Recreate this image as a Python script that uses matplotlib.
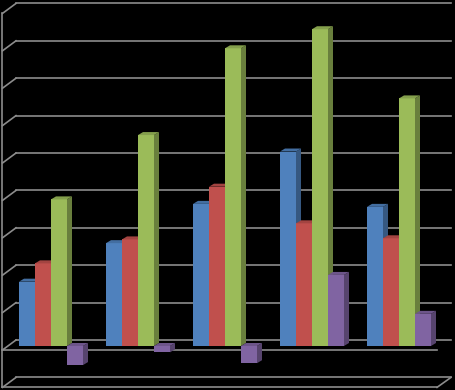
import matplotlib
matplotlib.use("Agg")
import matplotlib.pyplot as plt
from matplotlib.patches import Polygon
import numpy as np

# ---- data ----
categories = ["1", "2", "3", "4", "5"]
series_names = ["Series 1", "Series 2", "Series 3", "Series 4"]
blue = [1.72, 2.75, 3.80, 5.20, 3.72]
red = [2.21, 2.85, 4.26, 3.28, 2.88]
green = [3.92, 5.64, 7.96, 8.47, 6.62]
purple = [-0.51, -0.17, -0.46, 1.90, 0.86]
grid_values = list(range(-1, 10))

series = [blue, red, green, purple]
front_colors = ["#4F81BD", "#C0504D", "#9BBB59", "#8064A2"]

# ---- layout helpers (pixel geometry -> data units) ----
PX_X = 87.0      # pixels per category
PX_Y = 37.4      # pixels per value unit
X0, Y0 = 51.0, 346.0


def X(px):
    return (px - X0) / PX_X


def Y(py):
    return (Y0 - py) / PX_Y


def shade(c, f):
    r, g, b = matplotlib.colors.to_rgb(c)
    return (r * f, g * f, b * f)


fig = plt.figure(figsize=(4.55, 3.9), dpi=100, facecolor="black")
ax = fig.add_axes([0, 0, 1, 1])
ax.set_facecolor("black")
ax.set_xlim(X(0), X(455))
ax.set_ylim(Y(390), Y(0))
ax.axis("off")

gc = "#8c8c8c"
glw = 1.2
back_dy = (Y0 - 340.0) / PX_Y
front_dy = (Y0 - 350.0) / PX_Y

# back wall gridlines + left wall diagonals
for k in grid_values:
    ax.plot([X(16), X(451)], [k + back_dy, k + back_dy], color=gc, lw=glw, zorder=1)
    ax.plot([X(2.5), X(16)], [k + front_dy, k + back_dy], color=gc, lw=glw, zorder=1)

# left vertical edge
ax.plot([X(2.5), X(2.5)], [grid_values[0] + front_dy, grid_values[-1] + front_dy],
        color=gc, lw=glw, zorder=1)
# front floor edges
for k in (0, grid_values[0]):
    ax.plot([X(2.5), X(437)], [k + front_dy, k + front_dy], color=gc, lw=glw, zorder=1)
ax.plot([X(437), X(451)], [grid_values[0] + front_dy, grid_values[0] + back_dy],
        color=gc, lw=glw, zorder=1)

# ---- bars ----
bw = 16.0 / PX_X
ddx = 5.0 / PX_X
ddy = 3.0 / PX_Y
idx = np.arange(len(categories))

for j, (vals, col) in enumerate(zip(series, front_colors)):
    z = 3 + j
    lefts = idx - 32.0 / PX_X + j * bw
    ax.bar(lefts, vals, width=bw, align="edge", color=col, edgecolor="none",
           zorder=z, label=series_names[j])
    for xl, v in zip(lefts, vals):
        top = max(0.0, v)
        bot = min(0.0, v)
        xr = xl + bw
        # side face
        ax.add_patch(Polygon([[xr, bot], [xr + ddx, bot + ddy], [xr + ddx, top + ddy], [xr, top]],
                             closed=True, facecolor=shade(col, 0.68), edgecolor="none", zorder=z))
        # top face
        ax.add_patch(Polygon([[xl, top], [xr, top], [xr + ddx, top + ddy], [xl + ddx, top + ddy]],
                             closed=True, facecolor=shade(col, 0.85), edgecolor="none", zorder=z))

fig.savefig("out.png", dpi=100, facecolor="black")
